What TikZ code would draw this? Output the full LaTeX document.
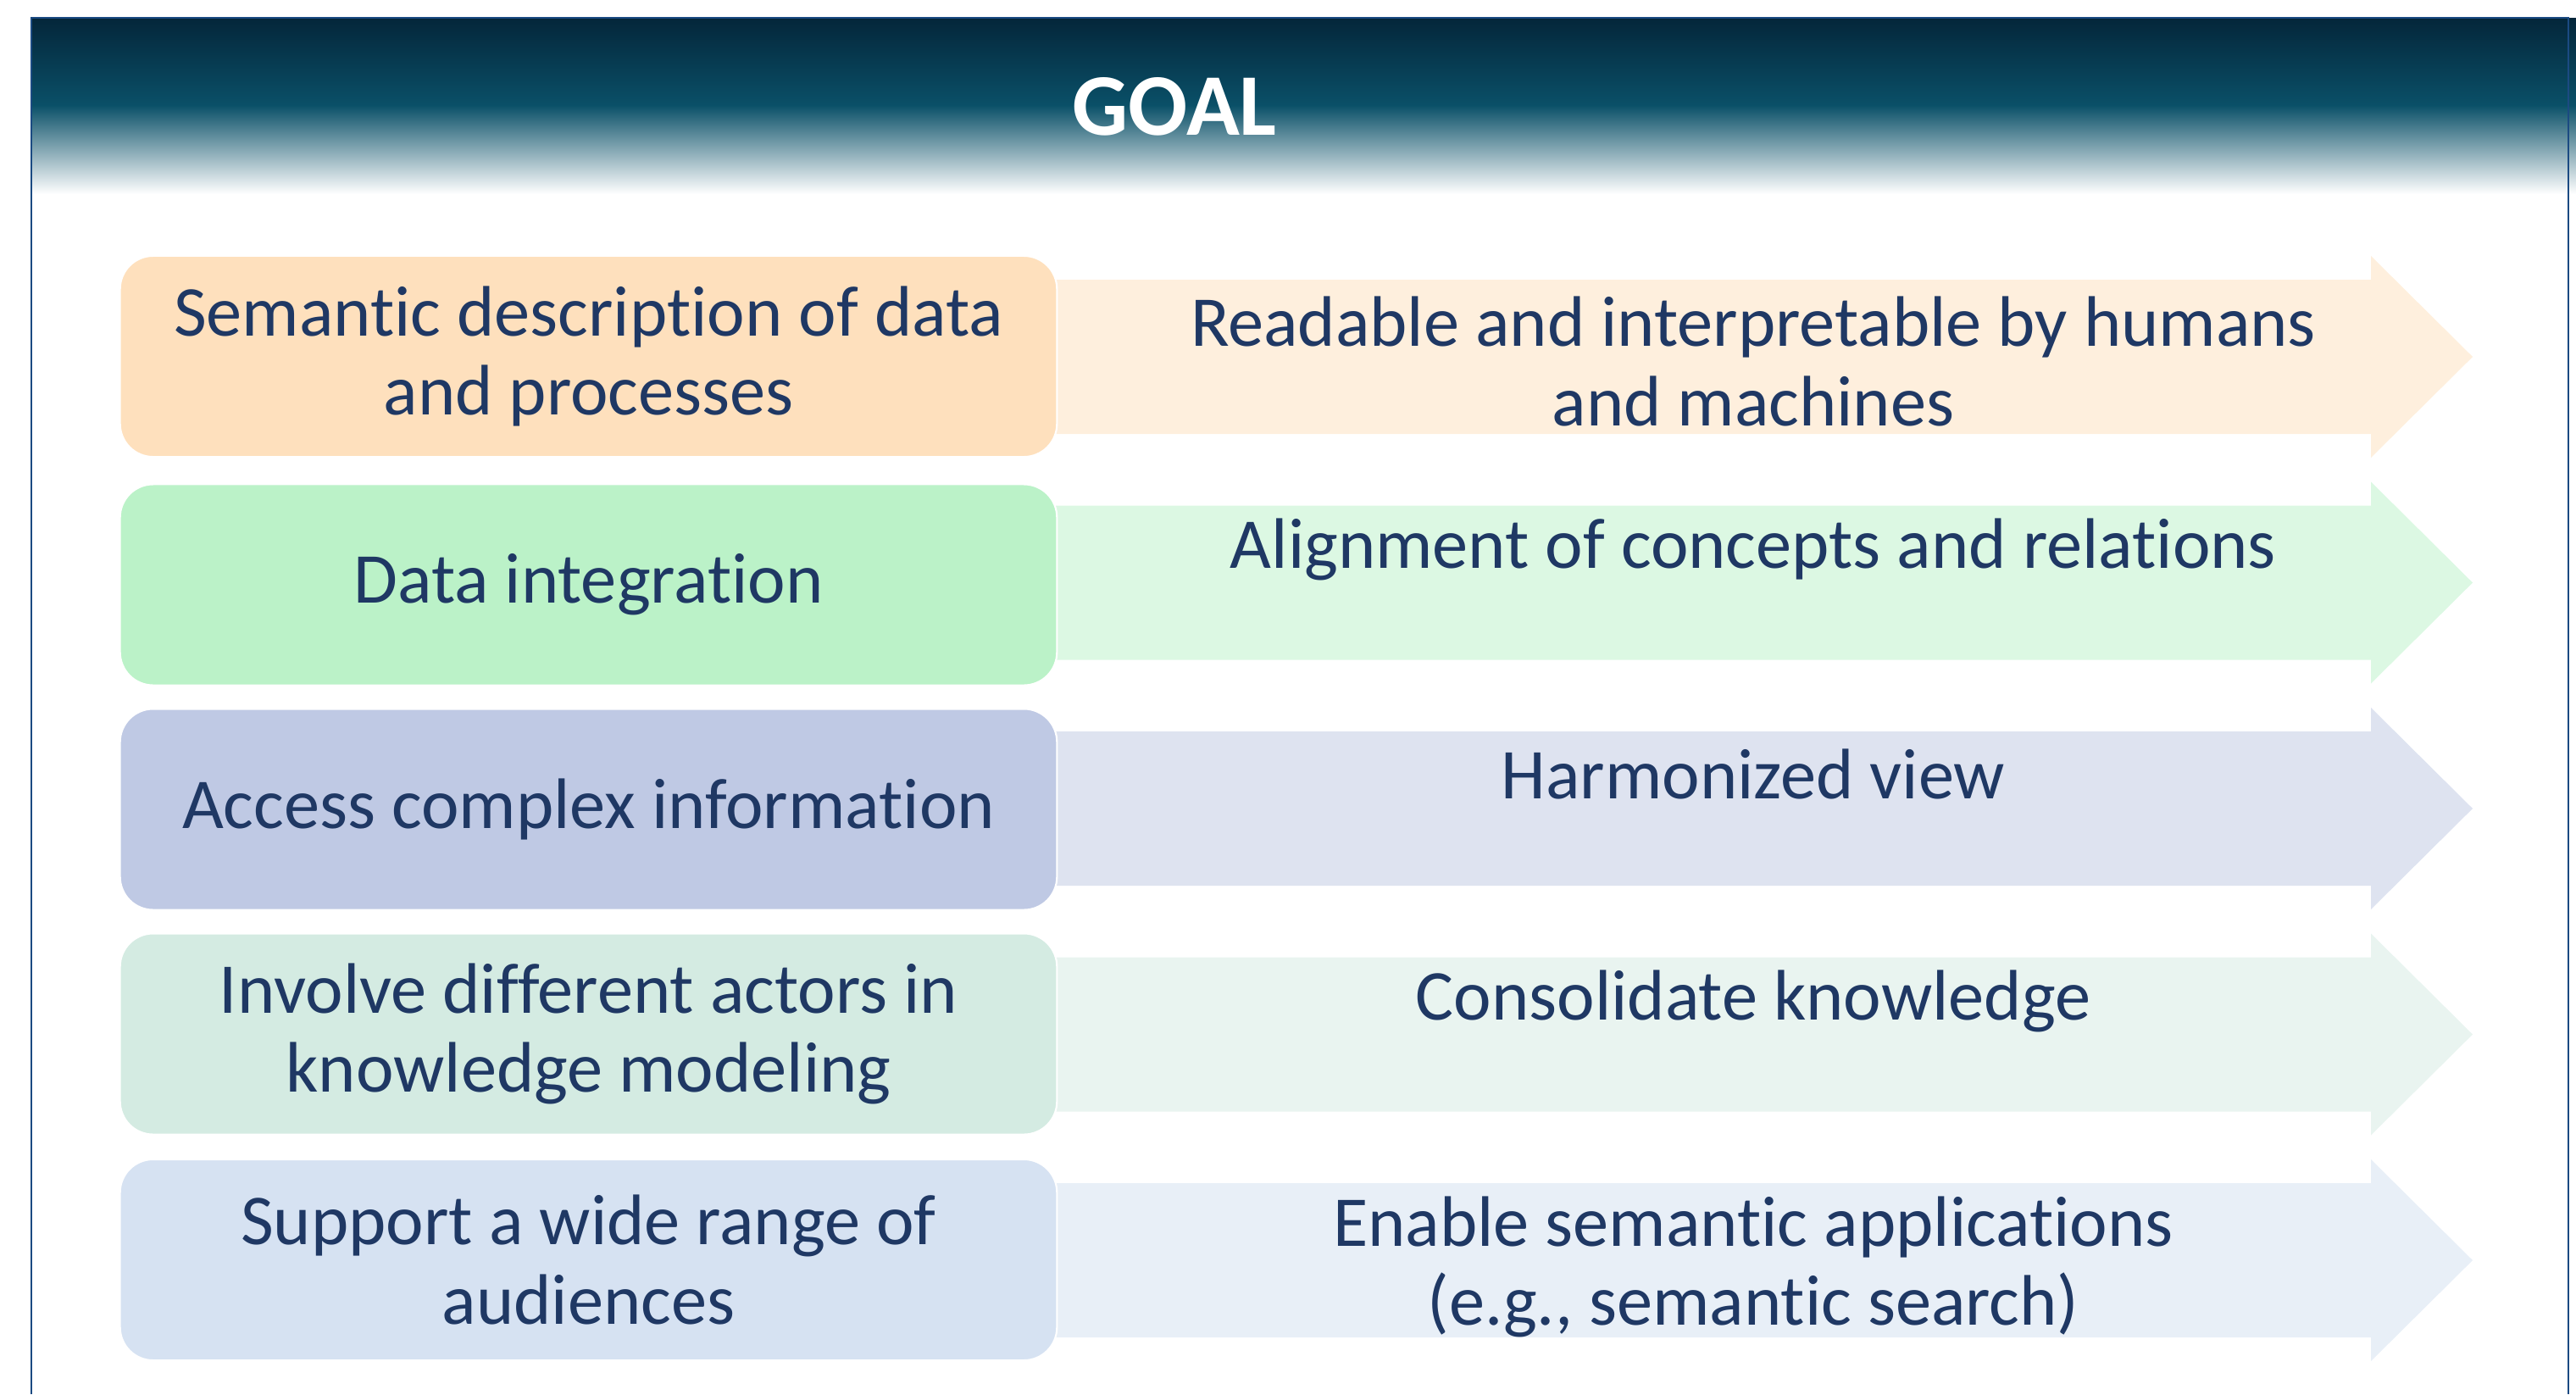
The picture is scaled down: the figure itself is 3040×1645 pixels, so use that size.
\documentclass[tikz,border=0pt]{standalone}
\usepackage{fontspec}
\setmainfont[RawFeature={-liga;-clig;-calt;-dlig}]{Carlito}
\usepackage{xcolor}
\usepackage{tikz}
\usetikzlibrary{calc}

\definecolor{navytext}{HTML}{1F3864}
\definecolor{framecol}{HTML}{1B4A82}
\definecolor{hdrtop}{HTML}{04263A}
\definecolor{hdrmid}{HTML}{0A5068}
\definecolor{hdrgray}{HTML}{7A86A4}
\definecolor{boxA}{HTML}{FEE0BD}
\definecolor{arrA}{HTML}{FEEFDD}
\definecolor{boxB}{HTML}{BBF2C8}
\definecolor{arrB}{HTML}{DCF8E3}
\definecolor{boxC}{HTML}{BFC9E4}
\definecolor{arrC}{HTML}{DEE3F0}
\definecolor{boxD}{HTML}{D4EBE2}
\definecolor{arrD}{HTML}{E9F4F0}
\definecolor{boxE}{HTML}{D6E2F2}
\definecolor{arrE}{HTML}{E8EFF7}

% arrow behind a row: colour, top of the row
\newcommand{\rowarrow}[2]{%
  \fill[#1] (1200,#2+28) -- (2798,#2+28) -- (2798,#2) -- (2918,#2+119)
    -- (2798,#2+238) -- (2798,#2+210) -- (1200,#2+210) -- cycle;}

\begin{document}
\begin{tikzpicture}[x=0.01cm,y=-0.01cm,
  aimbox/.style={rounded corners=0.39cm,draw=white,line width=0.6pt,
    minimum width=11.05cm,minimum height=2.37cm,inner sep=0pt,
    text=navytext,align=center,font=\fontsize{24}{26.5}\selectfont},
  resulttext/.style={text=navytext,align=center,inner sep=0pt,
    font=\fontsize{24}{26.5}\selectfont}]
\useasboundingbox (0,0) rectangle (3040,1645);

% Header
\shade[top color=hdrtop,bottom color=hdrmid] (37,21) rectangle (3040,125);
\shade[top color=hdrmid,middle color=hdrgray,bottom color=white] (37,124) rectangle (3040,229);
\node[text=white,font=\fontsize{29.5}{32}\selectfont\bfseries] (goal) at (1386,126) {GOAL};

% Frame
\draw[framecol,line width=0.8pt] (37,1645) -- (37,21) -- (3031,21) -- (3031,1645);

% Arrows
\rowarrow{arrA}{302}
\rowarrow{arrB}{568.5}
\rowarrow{arrC}{835}
\rowarrow{arrD}{1101.5}
\rowarrow{arrE}{1368}

% Left boxes
\node[aimbox,fill=boxA] (aim1) at (694.5,420.5) {Semantic description of data\\and processes};
\node[aimbox,fill=boxB] (aim2) at (694.5,690) {Data integration};
\node[aimbox,fill=boxC] (aim3) at (694.5,955) {Access complex information};
\node[aimbox,fill=boxD] (aim4) at (694.5,1220) {Involve different actors in\\knowledge modeling};
\node[aimbox,fill=boxE] (aim5) at (694.5,1486.5) {Support a wide range of\\audiences};

% Results on the arrows
\node[resulttext] (res1) at (2069,426.5) {Readable and interpretable by humans\\and machines};
\node[resulttext] (res2) at (2069,648) {Alignment of concepts and relations};
\node[resulttext] (res3) at (2069,913) {Harmonized view};
\node[resulttext] (res4) at (2069,1181) {Consolidate knowledge};
\node[resulttext] (res5) at (2069,1495) {Enable semantic applications\\(e.g., semantic search)};
\end{tikzpicture}
\end{document}
